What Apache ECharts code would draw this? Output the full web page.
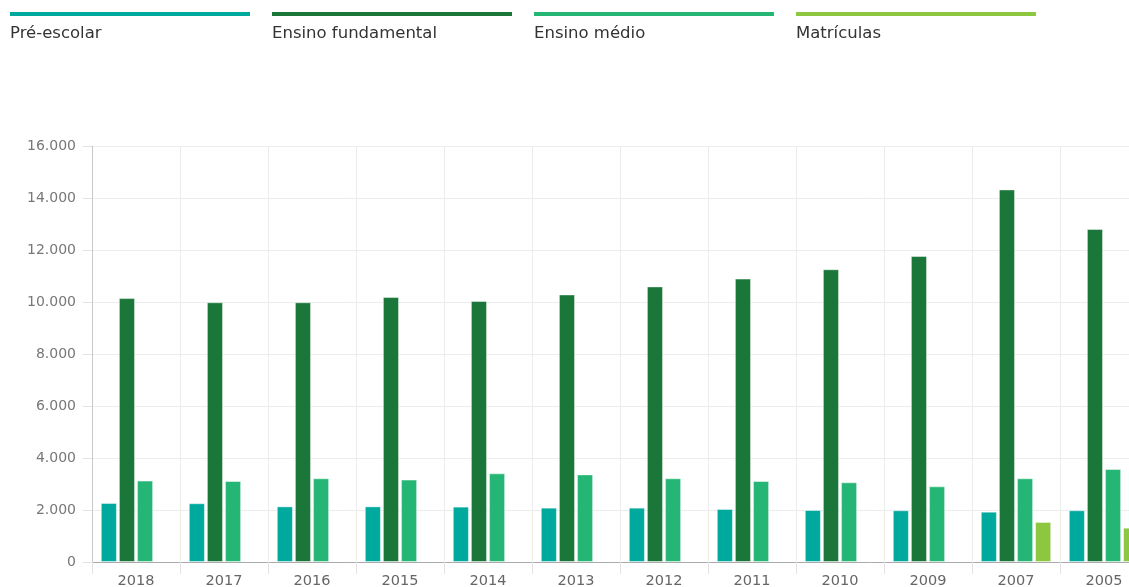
<!DOCTYPE html>
<html>
<head>
<meta charset="utf-8">
<script src="https://cdn.jsdelivr.net/npm/echarts@6/dist/echarts.min.js"></script>
<style>
  html, body { margin: 0; padding: 0; background: #fff; }
  #chart { width: 1129px; height: 587px; }
</style>
</head>
<body>
<div id="chart"></div>
<script>
// Years shown on the category axis
const years = ['2018', '2017', '2016', '2015', '2014', '2013', '2012', '2011', '2010', '2009', '2007', '2005'];

// Series names
const seriesNames = ['Pré-escolar', 'Ensino fundamental', 'Ensino médio', 'Matrículas'];

// Values per series, one per year
const preEscolar        = [2270, 2260, 2140, 2140, 2130, 2090, 2090, 2040, 2000, 1990, 1935, 1990];
const ensinoFundamental = [10150, 9990, 9990, 10190, 10040, 10290, 10600, 10900, 11260, 11770, 14330, 12810];
const ensinoMedio       = [3130, 3115, 3220, 3170, 3410, 3370, 3220, 3115, 3065, 2910, 3220, 3580];
const matriculas        = [null, null, null, null, null, null, null, null, null, null, 1540, 1320];

// Value-axis ticks
const yTicks = [0, 2000, 4000, 6000, 8000, 10000, 12000, 14000, 16000];

const palette = ['#00a99d', '#1a7739', '#25b574', '#8dc63f'];
const seriesData = [preEscolar, ensinoFundamental, ensinoMedio, matriculas];
const FONT = '"DejaVu Sans", Verdana, sans-serif';

const fmt = v => String(v).replace(/\B(?=(\d{3})+(?!\d))/g, '.');

// Legend: a colour rule with the name beneath it
const legendGraphics = [];
seriesNames.forEach((name, i) => {
  const x = 10 + i * 262;
  legendGraphics.push({
    type: 'rect', left: x, top: 12,
    shape: { width: 240, height: 4 },
    style: { fill: palette[i] }
  });
  legendGraphics.push({
    type: 'text', left: x, top: 25,
    style: { text: name, fill: '#333', font: '16.5px ' + FONT }
  });
});

const chart = echarts.init(document.getElementById('chart'), null, { renderer: 'canvas' });
chart.setOption({
  animation: false,
  backgroundColor: '#fff',
  graphic: legendGraphics,
  // The plot runs past the right edge of the canvas, so the last band is cut off
  grid: { left: 92, top: 146, width: 1056, height: 416, containLabel: false, outerBoundsMode: 'none' },
  xAxis: {
    type: 'category',
    data: years,
    boundaryGap: true,
    axisLine: { show: true, lineStyle: { color: '#aaa', width: 1 } },
    axisTick: { show: true, length: 12, lineStyle: { color: '#e2e2e2' } },
    splitLine: { show: true, lineStyle: { color: '#ececec' } },
    axisLabel: {
      margin: 12, color: '#666', fontSize: 14.5, fontFamily: FONT
    }
  },
  yAxis: {
    type: 'value',
    min: yTicks[0],
    max: yTicks[yTicks.length - 1],
    interval: yTicks[1] - yTicks[0],
    axisLine: { show: true, lineStyle: { color: '#c8c8c8' } },
    axisTick: { show: true, length: 9, lineStyle: { color: '#e2e2e2' } },
    splitLine: { show: true, lineStyle: { color: '#ececec' } },
    axisLabel: {
      margin: 16, color: '#777', fontSize: 14, fontFamily: FONT,
      formatter: v => fmt(v)
    }
  },
  series: seriesNames.map((name, i) => ({
    name: name,
    type: 'bar',
    data: seriesData[i],
    barCategoryGap: '20%',
    barGap: '12%',
    itemStyle: {
      color: palette[i],
      borderColor: 'rgba(255,255,255,0.45)',
      borderWidth: 1
    }
  }))
});
</script>
</body>
</html>
